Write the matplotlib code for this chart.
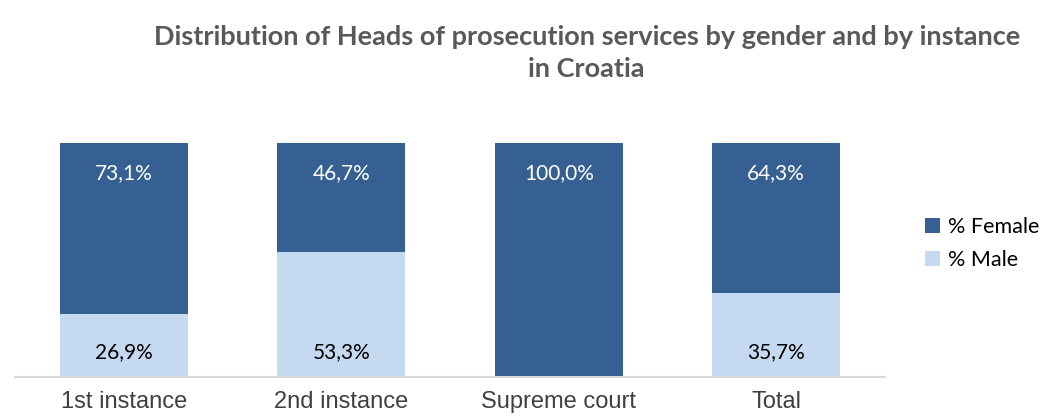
import numpy as np
import matplotlib
matplotlib.use("Agg")
import matplotlib.pyplot as plt

categories = ["1st instance", "2nd instance", "Supreme court", "Total"]
female = [73.1, 46.7, 100.0, 64.3]
male = [26.9, 53.3, 0.0, 35.7]

dark = "#366092"
light = "#C5D9F1"

fig = plt.figure(figsize=(10.57, 4.19), dpi=100)
ax = fig.add_axes([0.0142, 0.100, 0.823, 0.559])

x = np.arange(len(categories))
ax.bar(x, male, width=0.59, color=light, label="% Male", zorder=2)
ax.bar(x, female, width=0.59, bottom=male, color=dark, label="% Female", zorder=2)

for i in range(len(categories)):
    ax.text(x[i], male[i] + female[i] - 13, f"{female[i]:.1f}%".replace(".", ","),
            ha="center", va="center", color="white", fontsize=15, family="Lato")
    if male[i] > 0:
        ax.text(x[i], 10.5, f"{male[i]:.1f}%".replace(".", ","),
                ha="center", va="center", color="black", fontsize=15, family="Lato")

ax.set_xlim(-0.5, len(categories) - 0.5)
ax.set_ylim(0, 100)
ax.set_yticks([])
ax.set_xticks(x)
ax.set_xticklabels(categories, fontsize=17, color="#404040", family="Liberation Sans")
ax.tick_params(axis="x", length=0, pad=10)
for s in ["top", "right", "left"]:
    ax.spines[s].set_visible(False)
ax.spines["bottom"].set_color("#D9D9D9")
ax.spines["bottom"].set_linewidth(1.5)

handles, labels = ax.get_legend_handles_labels()
fig.legend(handles[::-1], labels[::-1], loc="center left", bbox_to_anchor=(0.857, 0.418),
           frameon=False, prop={"family": "Lato", "size": 15.5},
           handlelength=0.7, handleheight=0.7, handletextpad=0.35, labelspacing=0.6)

fig.text(0.555, 0.873, "Distribution of Heads of prosecution services by gender and by instance\nin Croatia",
         ha="center", va="center", fontsize=19.5, fontweight="bold", color="#595959",
         family="Lato", linespacing=1.4)

fig.savefig("out.png", dpi=100)
